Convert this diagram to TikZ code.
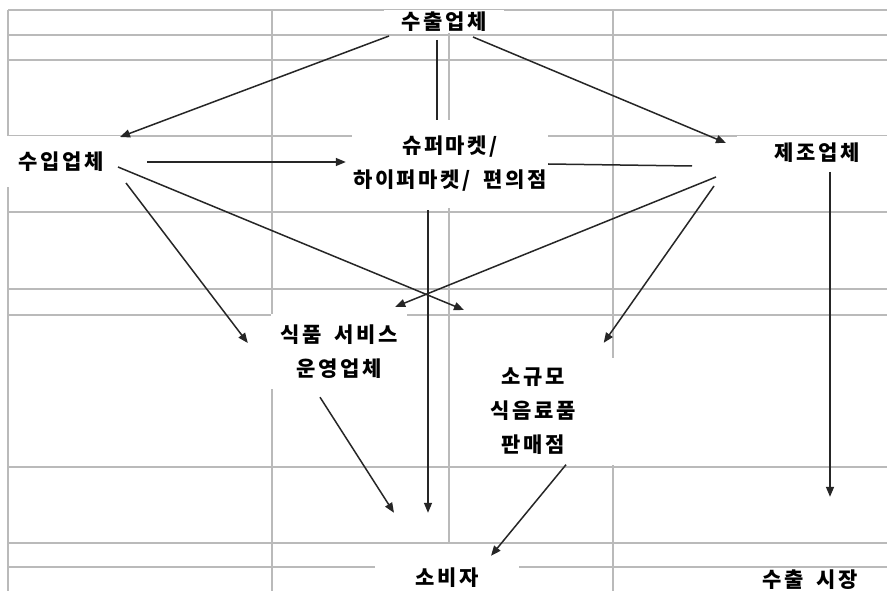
\documentclass[tikz,border=0pt]{standalone}
\usepackage{fontspec}
\newfontfamily\kr{Noto Sans CJK KR}[LetterSpace=12]
\usetikzlibrary{arrows.meta,calc}
\newcommand{\wsp}{\hspace{6pt}}
\begin{document}
\begin{tikzpicture}[x=1pt,y=-1pt,
  grid/.style={draw=black!27, line width=1.3pt},
  lbl/.style={fill=white, inner sep=0pt, align=center, font=\kr\bfseries\fontsize{21}{34}\selectfont},
  arr/.style={draw=black!85, line width=1.5pt, -{Triangle[length=10pt,width=8pt]}},
  ln/.style={draw=black!85, line width=1.5pt}]
\useasboundingbox (0,0) rectangle (887,591);
\fill[white] (0,0) rectangle (887,591);
% grid
\foreach \yy in {10,35,60,136,212,289,315,467,543,567} \draw[grid] (8,\yy) -- (887,\yy);
\draw[grid] (8,10) -- (8,591);
\draw[grid] (272,10) -- (272,591);
\draw[grid] (449,10) -- (449,543);
\draw[grid] (613,10) -- (613,591);
% nodes
\node[lbl, minimum width=120pt, minimum height=23pt] (ex) at (444,22) {수출업체};
\node[lbl, minimum width=122pt, minimum height=51pt] (im) at (61,162) {수입업체};
\node[lbl, minimum width=196pt, minimum height=88pt] (su) at (450,164) {슈퍼마켓/\\하이퍼마켓/ \wsp 편의점};
\node[lbl, minimum width=160pt, minimum height=34pt] (ma) at (817,153) {제조업체};
\node[lbl, minimum width=136pt, minimum height=75pt] (fs) at (339,351.5) {식품 \wsp 서비스\\운영업체};
\node[lbl, minimum width=163pt, minimum height=107pt] (sm) at (533,411) {소규모\\식음료품\\판매점};
\node[lbl, minimum width=144pt, minimum height=68pt] (co) at (447,578) {소비자};
\node[lbl, minimum width=160pt, minimum height=24pt] (xm) at (810,580) {수출 \wsp 시장};
% connectors
\draw[arr] ($(ex)+(-55,14)$) -- ($(im)+(59,-25)$);
\draw[ln]  ($(ex)+(-7,18)$) -- ($(su.north)+(-13,0)$);
\draw[arr] ($(ex)+(29,15)$) -- ($(ma)+(-91,-10)$);
\draw[arr] ($(im)+(86,0)$) -- ($(su.west)+(-6,-2)$);
\draw[ln]  ($(ma)+(-125,13)$) -- (su.east);
\draw[arr] ($(im)+(65,21)$) -- ($(fs.west)+(-23,-8.5)$);
\draw[arr] ($(im)+(57,5)$) -- ($(sm)+(-69,-101)$);
\draw[arr] ($(ma)+(-101,24)$) -- ($(fs.north east)+(-12,-7)$);
\draw[arr] ($(ma)+(-103,33)$) -- ($(sm.north east)+(-11,-14.5)$);
\draw[arr] ($(su.south)+(-22,2)$) -- ($(co.north)+(-19,-31)$);
\draw[arr] ($(fs.south)+(-19,8)$) -- ($(co.north)+(-53,-31)$);
\draw[arr] ($(sm.south)+(33,0)$) -- ($(co.north)+(44,12)$);
\draw[arr] ($(ma)+(13,19)$) -- ($(xm.north)+(20,-71)$);
\end{tikzpicture}
\end{document}
